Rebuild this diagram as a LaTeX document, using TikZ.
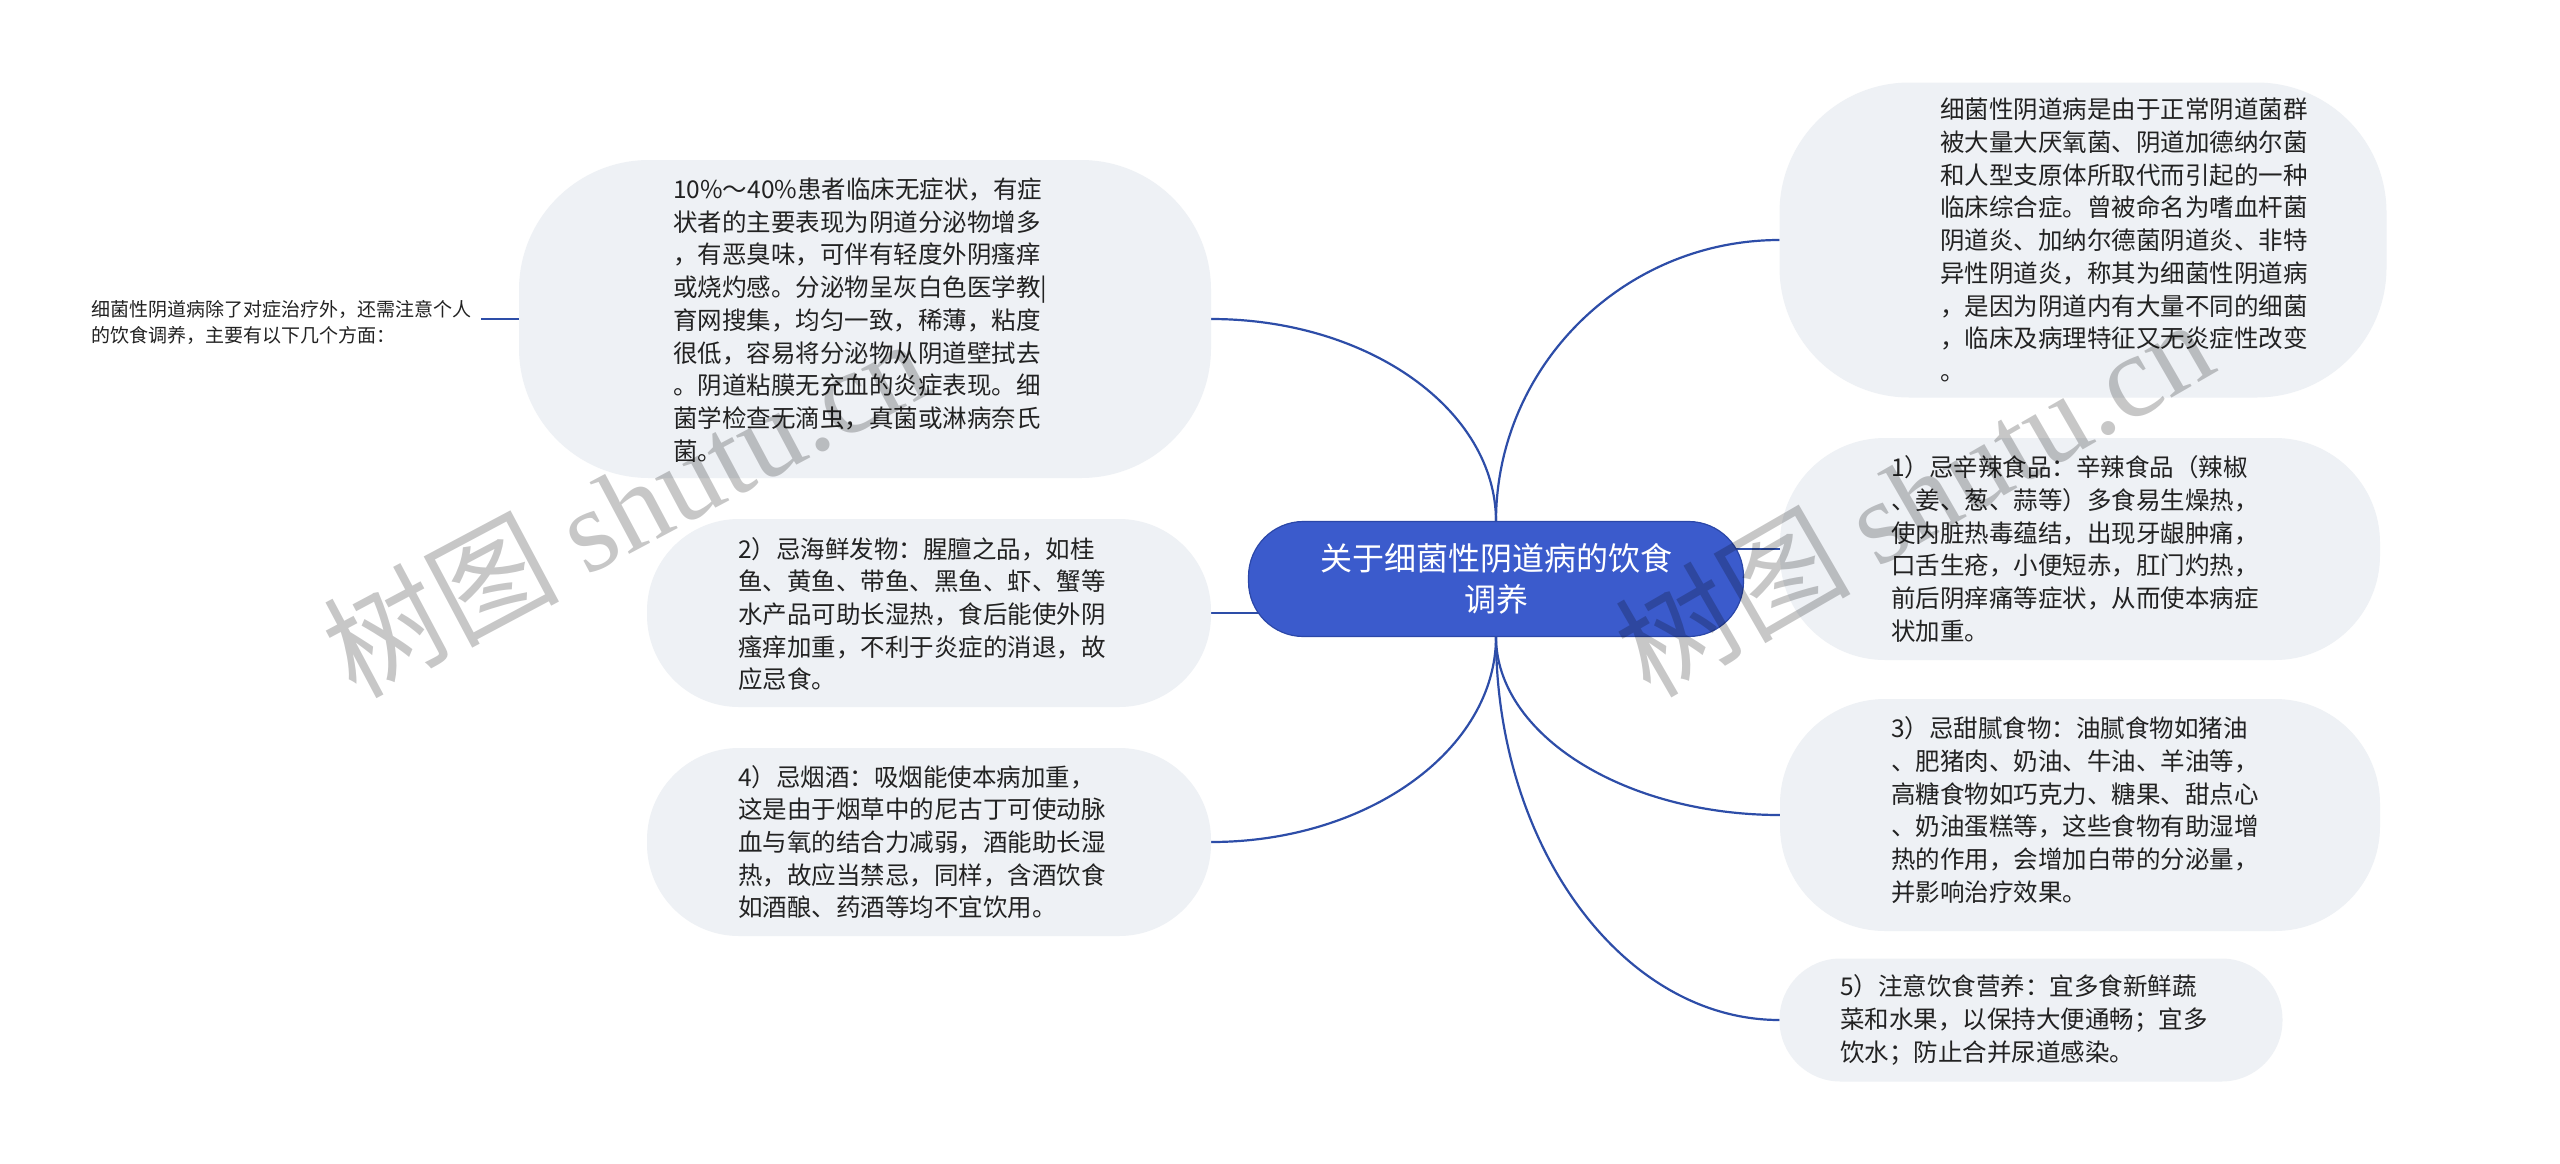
\documentclass[tikz,border=0pt]{standalone}
\usepackage{fontspec}
\setmainfont{Noto Sans CJK SC}
\newfontfamily\wmlatin{Liberation Serif}
\usetikzlibrary{backgrounds}
\definecolor{bubblefill}{HTML}{EEF1F5}
\definecolor{centerfill}{HTML}{3B5BCC}
\definecolor{centerdraw}{HTML}{2B47A8}
\definecolor{linkcol}{HTML}{2D4DA8}
\definecolor{txtcol}{HTML}{222222}
\begin{document}
\begin{tikzpicture}[x=1pt,y=-1pt,
  bubble/.style={fill=bubblefill, draw=none, rounded corners=#1, inner sep=0pt, outer sep=0pt},
  bubble/.default=90pt,
  body/.style={font=\fontsize{24.5}{32.7}\selectfont, text=txtcol, align=left, inner sep=0pt, anchor=west},
  notetxt/.style={font=\fontsize{19}{26}\selectfont, text=txtcol, align=left, inner sep=0pt, anchor=west},
  centerbox/.style={fill=centerfill, draw=centerdraw, line width=1.2pt, rounded corners=55pt,
    text=white, font=\fontsize{32}{41}\selectfont, align=center, inner sep=0pt, outer sep=0pt},
  link/.style={draw=linkcol, line width=2.2pt},
  wm/.style={text=black, text opacity=0.22, font=\fontsize{118}{118}\selectfont, inner sep=0pt}
]
\useasboundingbox (0,0) rectangle (2560,1163);

% central topic
\node[centerbox, minimum width=495pt, minimum height=115pt] (center) at (1496,579)
  {关于细菌性阴道病的饮食\\调养};

% left side
\node[notetxt] (note) at (91,322)
  {细菌性阴道病除了对症治疗外，还需注意个人\\的饮食调养，主要有以下几个方面：};

\node[bubble=130pt, minimum width=692pt, minimum height=318pt] (big) at (865,319) {};
\node[body] (big-t) at (673,320)
  {10\%～40\%患者临床无症状，有症\\
   状者的主要表现为阴道分泌物增多\\
   ，有恶臭味，可伴有轻度外阴瘙痒\\
   或烧灼感。分泌物呈灰白色医学教|\\
   育网搜集，均匀一致，稀薄，粘度\\
   很低，容易将分泌物从阴道壁拭去\\
   。阴道粘膜无充血的炎症表现。细\\
   菌学检查无滴虫，真菌或淋病奈氏\\
   菌。};

\node[bubble=92pt, minimum width=564pt, minimum height=188pt] (n2) at (929,613) {};
\node[body] (n2-t) at (738,614)
  {2）忌海鲜发物：腥膻之品，如桂\\
   鱼、黄鱼、带鱼、黑鱼、虾、蟹等\\
   水产品可助长湿热，食后能使外阴\\
   瘙痒加重，不利于炎症的消退，故\\
   应忌食。};

\node[bubble=92pt, minimum width=564pt, minimum height=188pt] (n4) at (929,842) {};
\node[body] (n4-t) at (738,842)
  {4）忌烟酒：吸烟能使本病加重，\\
   这是由于烟草中的尼古丁可使动脉\\
   血与氧的结合力减弱，酒能助长湿\\
   热，故应当禁忌，同样，含酒饮食\\
   如酒酿、药酒等均不宜饮用。};

% right side
\node[bubble=130pt, minimum width=607pt, minimum height=315pt] (rt) at (2083,240) {};
\node[body] (rt-t) at (1940,240)
  {细菌性阴道病是由于正常阴道菌群\\
   被大量大厌氧菌、阴道加德纳尔菌\\
   和人型支原体所取代而引起的一种\\
   临床综合症。曾被命名为嗜血杆菌\\
   阴道炎、加纳尔德菌阴道炎、非特\\
   异性阴道炎，称其为细菌性阴道病\\
   ，是因为阴道内有大量不同的细菌\\
   ，临床及病理特征又无炎症性改变\\
   。};

\node[bubble=105pt, minimum width=600pt, minimum height=222pt] (n1) at (2080,549) {};
\node[body] (n1-t) at (1891,549)
  {1）忌辛辣食品：辛辣食品（辣椒\\
   、姜、葱、蒜等）多食易生燥热，\\
   使内脏热毒蕴结，出现牙龈肿痛，\\
   口舌生疮，小便短赤，肛门灼热，\\
   前后阴痒痛等症状，从而使本病症\\
   状加重。};

\node[bubble=105pt, minimum width=600pt, minimum height=232pt] (n3) at (2080,815) {};
\node[body] (n3-t) at (1891,810)
  {3）忌甜腻食物：油腻食物如猪油\\
   、肥猪肉、奶油、牛油、羊油等，\\
   高糖食物如巧克力、糖果、甜点心\\
   、奶油蛋糕等，这些食物有助湿增\\
   热的作用，会增加白带的分泌量，\\
   并影响治疗效果。};

\node[bubble=61pt, minimum width=503pt, minimum height=123pt] (n5) at (2031,1020) {};
\node[body] (n5-t) at (1840,1020)
  {5）注意饮食营养：宜多食新鲜蔬\\
   菜和水果，以保持大便通畅；宜多\\
   饮水；防止合并尿道感染。};

% page background and connectors
\begin{scope}[on background layer]
  \fill[white] (0,0) rectangle (2560,1163);
  \draw[link] (center.north) .. controls +(0,-112) and +(157,0) .. (big.east);
  \draw[link] (center.north) .. controls +(0,-155) and +(-156,0) .. (rt.west);
  \draw[link] (center.south) .. controls +(0,113) and +(157,0) .. (n4.east);
  \draw[link] (center.south) .. controls +(0,98) and +(-156,0) .. (n3.west);
  \draw[link] (center.south) .. controls +(0,211) and +(-156,0) .. (n5.west);
  \draw[link] (n2.east) -- (n2.east -| center.center);
  \draw[link] (n1.west) -- (n1.west -| center.center);
  \draw[link, shorten <=10pt] (note.east |- big.west) -- (big.west);
\end{scope}

% watermarks
\node[wm, rotate=28, anchor=base west] (wm1) at (355,700) {树图 {\wmlatin shutu.cn}};
\node[wm, rotate=30, anchor=base west] (wm2) at (1650,700) {树图 {\wmlatin shutu.cn}};
\end{tikzpicture}
\end{document}
